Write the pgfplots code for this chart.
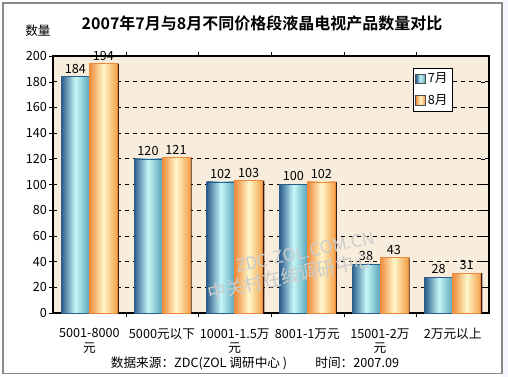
\documentclass[border=0pt]{standalone}
\usepackage{fontspec}
\setmainfont{Noto Sans CJK SC}[BoldFont={Noto Sans CJK SC Bold}]
\usepackage{pgfplots}
\pgfplotsset{compat=1.18}
\definecolor{bg}{HTML}{F8EDDC}
\definecolor{blA}{HTML}{2A5C8C}
\definecolor{blB}{HTML}{C6F7F7}
\definecolor{blC}{HTML}{5AA6BA}
\definecolor{orA}{HTML}{EE8A3A}
\definecolor{orB}{HTML}{FFF7CA}
\definecolor{orC}{HTML}{F3A048}
\definecolor{shd}{HTML}{3A1A10}
\definecolor{frame}{HTML}{8A8A8A}
\pgfplotsset{
  julbar/.style={draw=blA, left color=blA, right color=blC, middle color=blB, bar shift=-0.1925, nodes near coords},
  augbar/.style={draw=orA, left color=orA, right color=orC, middle color=orB, bar shift=0.1925, nodes near coords},
}
\begin{document}
\begin{tikzpicture}[x=0.75pt,y=0.75pt]
\fill[white] (0,0) rectangle (508,377);
\fill[blue!4] (502,0) rectangle (508,377);
\draw[frame, line width=1pt] (3,3.5) rectangle (502,374);
\node[font=\bfseries\fontsize{12}{14}\selectfont] at (262,354) {2007年7月与8月不同价格段液晶电视产品数量对比};
\node[font=\fontsize{9.5}{11}\selectfont] at (38,346) {数量};
\begin{axis}[
  at={(39.75pt,48pt)}, anchor=south west, scale only axis,
  width=327pt, height=192.75pt,
  xmin=-0.5, xmax=5.5, ymin=0, ymax=200,
  ytick={0,20,...,200},
  tick align=inside, major tick length=3pt,
  ytick style={xshift=-3pt, black},
  xtick={0.5,1.5,2.5,3.5,4.5}, xticklabels={},
  xtick style={black},
  extra x ticks={0,1,2,3,4,5},
  extra x tick labels={{5001-8000\\元},{5000元以下},{10001-1.5万\\元},{8001-1万元},{15001-2万\\元},{2万元以上}},
  extra x tick style={major tick length=0pt, grid=none},
  xticklabel style={anchor=north, align=center, font=\fontsize{9.5}{11}\selectfont, yshift=-8pt},
  yticklabel style={font=\fontsize{9.5}{11}\selectfont, xshift=-1pt},
  /pgf/number format/assume math mode=true,
  ymajorgrids, grid style={dashed, black, line width=0.5pt},
  axis background/.style={fill=bg},
  axis line style={black, line width=0.8pt},
  ybar, bar width=0.385,
  nodes near coords style={font=\fontsize{9.5}{11}\selectfont, black, yshift=-1pt},
  legend style={at={(0.826,0.953)}, anchor=north west, draw=black, fill=white,
    font=\fontsize{9.5}{11}\selectfont, inner sep=1.5pt, row sep=3pt},
  legend image code/.code={\draw[#1, draw=black!70] (0pt,-3.5pt) rectangle (7pt,3.5pt);},
  clip=false,
]
% shadows
\addplot[forget plot, fill=shd, draw=none, bar shift=-0.168] coordinates {(0,184) (1,120) (2,102) (3,100) (4,38) (5,28)};
\addplot[forget plot, fill=shd, draw=none, bar shift=0.215] coordinates {(0,194) (1,121) (2,103) (3,102) (4,43) (5,31)};
% bars (one per plot so that each bar gets its own shading)
\addplot[julbar] coordinates {(0,184)};
\addplot[augbar] coordinates {(0,194)};
\addplot[julbar, forget plot] coordinates {(1,120)};
\addplot[augbar, forget plot] coordinates {(1,121)};
\addplot[julbar, forget plot] coordinates {(2,102)};
\addplot[augbar, forget plot] coordinates {(2,103)};
\addplot[julbar, forget plot] coordinates {(3,100)};
\addplot[augbar, forget plot] coordinates {(3,102)};
\addplot[julbar, forget plot] coordinates {(4,38)};
\addplot[augbar, forget plot] coordinates {(4,43)};
\addplot[julbar, forget plot] coordinates {(5,28)};
\addplot[augbar, forget plot] coordinates {(5,31)};
\legend{7月,8月}
\end{axis}
\node[text=black!20, rotate=12, font=\fontsize{13}{15}\selectfont] at (305,125) {ZDC-ZOL.COM.CN};
\node[text=black!20, rotate=12, font=\fontsize{14}{16}\selectfont] at (290,101) {中关村在线调研中心};
\node[font=\fontsize{9.5}{11}\selectfont] at (255,14) {数据来源：ZDC(ZOL 调研中心 ) \quad\quad 时间：2007.09};
\end{tikzpicture}
\end{document}
